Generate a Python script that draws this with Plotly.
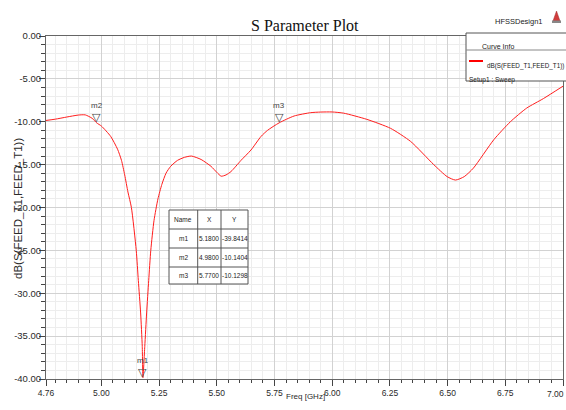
import plotly.graph_objects as go

# S11 sweep of FEED_T1 (frequency in GHz, magnitude in dB)
freq_ghz = [4.76, 4.80, 4.85, 4.90, 4.93, 4.96, 4.98, 5.00, 5.04, 5.07, 5.087, 5.101,
            5.115, 5.13, 5.151, 5.160, 5.170, 5.177, 5.18, 5.188, 5.196, 5.205, 5.214,
            5.228, 5.245, 5.262, 5.28, 5.30, 5.33, 5.36, 5.39, 5.432, 5.475, 5.50,
            5.519, 5.54, 5.562, 5.605, 5.648, 5.692, 5.72, 5.77, 5.835, 5.907, 5.95,
            6.00, 6.05, 6.15, 6.253, 6.34, 6.44, 6.498, 6.534, 6.572, 6.612, 6.70,
            6.772, 6.843, 6.915, 7.00]
s11_db = [-9.85, -9.7, -9.45, -9.22, -9.2, -9.6, -10.1404, -10.5, -11.7, -13.2, -14.5, -16.2,
          -18.2, -20.0, -25.0, -28.5, -32.3, -36.2, -39.8414, -36.2, -32.3, -28.5, -25.0,
          -21.5, -19.0, -17.3, -16.0, -15.2, -14.5, -14.15, -14.0, -14.4, -15.2, -15.9,
          -16.35, -16.2, -15.8, -14.5, -13.3, -11.7, -11.0, -10.1298, -9.33, -8.94, -8.87,
          -8.86, -9.0, -9.72, -10.77, -12.3, -15.0, -16.4, -16.8, -16.4, -15.4, -12.1,
          -10.0, -8.4, -7.3, -5.85]

# Markers
marker_names = ["m1", "m2", "m3"]
marker_x = [5.18, 4.98, 5.77]
marker_y = [-39.8414, -10.1404, -10.1298]

# Axis ticks
x_tickvals = [4.76, 5.00, 5.25, 5.50, 5.75, 6.00, 6.25, 6.50, 6.75, 7.00]
y_tickvals = [0, -5, -10, -15, -20, -25, -30, -35, -40]

W, H = 566, 410
L, R, T, B = 46, 3, 36, 31
PW, PH = W - L - R, H - T - B

SANS = "Liberation Sans Narrow, Arial Narrow, Liberation Sans, Arial, sans-serif"
TXT = "#2a2a2a"


def px(x):
    return (x - L) / PW


def py(y):
    return (H - B - y) / PH


fig = go.Figure()
fig.add_trace(go.Scatter(x=freq_ghz, y=s11_db, mode="lines",
                         line=dict(color="rgb(255,30,30)", width=1, shape="spline",
                                   smoothing=0.6),
                         hoverinfo="skip", showlegend=False))

shapes = []
annotations = []

# marker glyphs and names
for name, mx, my in zip(marker_names, marker_x, marker_y):
    annotations.append(dict(x=mx, y=my, xref="x", yref="y", text="▽", showarrow=False,
                            yanchor="bottom", yshift=-3,
                            font=dict(family="DejaVu Sans", size=11, color="#444444")))
    annotations.append(dict(x=mx, y=my, xref="x", yref="y", text=name, showarrow=False,
                            yanchor="bottom", yshift=11,
                            font=dict(family=SANS, size=8, color="#444444")))

# marker table
tab_cols = [169, 197.7, 221, 248]
tab_rows = [210, 229, 248, 267, 284]
shapes.append(dict(type="rect", xref="paper", yref="paper",
                   x0=px(tab_cols[0]), x1=px(tab_cols[-1]),
                   y0=py(tab_rows[-1]), y1=py(tab_rows[0]),
                   fillcolor="white", line=dict(width=0), layer="above"))
for cx in tab_cols:
    shapes.append(dict(type="line", xref="paper", yref="paper",
                       x0=px(cx), x1=px(cx), y0=py(tab_rows[0]), y1=py(tab_rows[-1]),
                       line=dict(color="#555555", width=1), layer="above"))
for ry in tab_rows:
    shapes.append(dict(type="line", xref="paper", yref="paper",
                       x0=px(tab_cols[0]), x1=px(tab_cols[-1]), y0=py(ry), y1=py(ry),
                       line=dict(color="#555555", width=1), layer="above"))
table_rows = [["Name", "X", "Y"]] + [
    [n, f"{x:.4f}", f"{y:.4f}"] for n, x, y in zip(marker_names, marker_x, marker_y)]
for r, row in enumerate(table_rows):
    cy = (tab_rows[r] + tab_rows[r + 1]) / 2
    for c, cell in enumerate(row):
        cx = (tab_cols[c] + tab_cols[c + 1]) / 2
        annotations.append(dict(x=px(cx), y=py(cy), xref="paper", yref="paper",
                                text=cell, showarrow=False, xanchor="center",
                                yanchor="middle",
                                font=dict(family=SANS, size=6.5, color="#222222")))

# curve info box
shapes.append(dict(type="rect", xref="paper", yref="paper",
                   x0=px(466), x1=px(580), y0=py(81), y1=py(33),
                   fillcolor="white", line=dict(color="#555555", width=1), layer="above"))
shapes.append(dict(type="line", xref="paper", yref="paper",
                   x0=px(466), x1=px(580), y0=py(50), y1=py(50),
                   line=dict(color="#888888", width=1), layer="above"))
shapes.append(dict(type="line", xref="paper", yref="paper",
                   x0=px(469), x1=px(483), y0=py(61), y1=py(61),
                   line=dict(color="red", width=2), layer="above"))
annotations += [
    dict(x=px(516), y=py(41.5), xref="paper", yref="paper", text="Curve Info",
         showarrow=False, font=dict(family=SANS, size=7, color="#222222")),
    dict(x=px(485), y=py(60.5), xref="paper", yref="paper", text="dB(S(FEED_T1,FEED_T1))",
         showarrow=False, xanchor="left", font=dict(family=SANS, size=6.3, color="#222222")),
    dict(x=px(467), y=py(74), xref="paper", yref="paper", text="Setup1 : Sweep",
         showarrow=False, xanchor="left", font=dict(family=SANS, size=6.5, color="#222222")),
]

# header: title, design name, logo
annotations += [
    dict(x=px(305), y=py(15), xref="paper", yref="paper", text="S Parameter Plot",
         showarrow=False, font=dict(family="Liberation Serif, Times New Roman, serif",
                                    size=16, color="#111111")),
    dict(x=px(545), y=py(15), xref="paper", yref="paper", text="HFSSDesign1",
         showarrow=False, xanchor="right", font=dict(family=SANS, size=7.5, color="#222222")),
    dict(x=px(305), y=py(403), xref="paper", yref="paper", text="Freq [GHz]",
         showarrow=False, font=dict(family=SANS, size=8, color=TXT)),
    dict(x=px(10), y=py(209), xref="paper", yref="paper", text="dB(S(FEED_T1,FEED_T1))",
         showarrow=False, textangle=-90, font=dict(family=SANS, size=11.5, color=TXT)),
]
shapes.append(dict(type="path", xref="paper", yref="paper",
                   path=f"M {px(553)} {py(21)} L {px(556.5)} {py(11)} L {px(560)} {py(21)} Z",
                   fillcolor="#d23c3c", line=dict(color="#a03030", width=0.5)))
shapes.append(dict(type="rect", xref="paper", yref="paper",
                   x0=px(552), x1=px(561), y0=py(23), y1=py(20.5),
                   fillcolor="#888888", line=dict(width=0)))

# the last frequency label sits against the right page edge, so it is right-aligned
x_ticktext = [f"{v:.2f}" for v in x_tickvals]
annotations.append(dict(x=1.0, y=0, xref="paper", yref="paper", text=x_ticktext[-1],
                        showarrow=False, xanchor="right", yanchor="top", xshift=3, yshift=-8,
                        font=dict(family=SANS, size=8.5, color=TXT)))
x_ticktext[-1] = ""

axis_common = dict(showline=True, linecolor="#666666", linewidth=1, mirror=True,
                   ticks="outside", tickcolor="#444444", ticklen=6,
                   ticklabeloverflow="allow", automargin=False,
                   showgrid=True, gridcolor="#d2d2d2", gridwidth=1, zeroline=False)

fig.update_xaxes(range=[4.76, 7.0], tickvals=x_tickvals, ticktext=x_ticktext,
                 ticklabelstandoff=0,
                 tickfont=dict(family=SANS, size=8.5, color=TXT),
                 minor=dict(dtick=0.05, tick0=5.0, ticks="outside", ticklen=3,
                            tickcolor="#444444", showgrid=True, gridcolor="#ededed"),
                 **axis_common)
fig.update_yaxes(range=[-40, 0], tickvals=y_tickvals,
                 ticktext=[f"{v:.2f}" for v in y_tickvals],
                 ticklabelstandoff=-4,
                 tickfont=dict(family=SANS, size=9.5, color=TXT),
                 minor=dict(dtick=1, ticks="outside", ticklen=4,
                            tickcolor="#444444", showgrid=True, gridcolor="#ededed"),
                 **axis_common)

fig.update_layout(width=W, height=H,
                  margin=dict(l=L, r=R, t=T, b=B, autoexpand=False),
                  paper_bgcolor="white", plot_bgcolor="white",
                  shapes=shapes, annotations=annotations, showlegend=False)

fig.write_html("out.html")
